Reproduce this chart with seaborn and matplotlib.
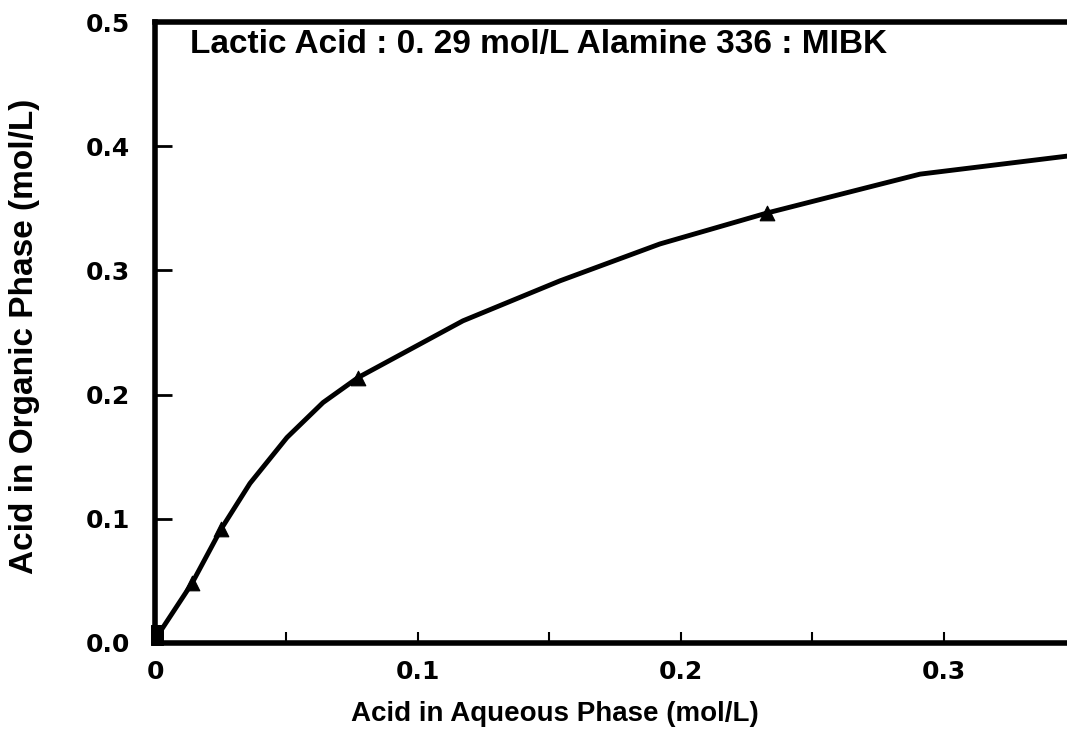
import matplotlib
matplotlib.use('Agg')
import matplotlib.pyplot as plt
import seaborn as sns
import numpy as np
import pandas as pd

# curva de equilibrio
curva_x = [0.001, 0.0141, 0.0251, 0.0361, 0.0502, 0.0639, 0.0772, 0.1171,
           0.1540, 0.1920, 0.2327, 0.2730, 0.2909, 0.3468]
curva_y = [0.006, 0.0482, 0.0916, 0.1285, 0.1655, 0.1936, 0.2137, 0.2594,
           0.2916, 0.3213, 0.3462, 0.3679, 0.3775, 0.3920]

# pontos experimentais
tri_x = [0.0141, 0.0251, 0.0772, 0.2327]
tri_y = [0.0482, 0.0916, 0.2137, 0.3462]
sq_x = [0.0008, 0.0008]
sq_y = [0.003, 0.010]

xticks = [0, 0.1, 0.2, 0.3]
xtick_labels = ['0', '0.1', '0.2', '0.3']
yticks = [0.0, 0.1, 0.2, 0.3, 0.4, 0.5]
ytick_labels = ['0.0', '0.1', '0.2', '0.3', '0.4', '0.5']

sns.set_theme(style='white')
plt.rcParams['font.family'] = ['Liberation Sans', 'DejaVu Sans']
plt.rcParams['text.color'] = 'black'
plt.rcParams['axes.labelcolor'] = 'black'
plt.rcParams['xtick.color'] = 'black'
plt.rcParams['ytick.color'] = 'black'

fig = plt.figure(figsize=(10.67, 7.40), dpi=100)
ax = fig.add_axes([155 / 1067, 97 / 740, 912 / 1067, 621 / 740])

df_curva = pd.DataFrame({'x': curva_x, 'y': curva_y})
df_tri = pd.DataFrame({'x': tri_x, 'y': tri_y})
df_sq = pd.DataFrame({'x': sq_x, 'y': sq_y})

sns.lineplot(data=df_curva, x='x', y='y', color='black', linewidth=3.5,
             sort=False, ax=ax, zorder=3)
sns.scatterplot(data=df_tri, x='x', y='y', marker='^', s=110, color='black',
                edgecolor='black', ax=ax, zorder=4)
sns.scatterplot(data=df_sq, x='x', y='y', marker='s', s=80, color='black',
                edgecolor='black', ax=ax, zorder=4, clip_on=False)

ax.set_xlim(0, 0.3468)
ax.set_ylim(0, 0.5)

for lado in ['left', 'bottom', 'top']:
    ax.spines[lado].set_linewidth(4)
    ax.spines[lado].set_color('black')
ax.spines['right'].set_visible(False)

ax.set_xticks(xticks)
ax.set_xticklabels(xtick_labels)
ax.set_xticks(np.arange(0.05, 0.35, 0.1), minor=True)
ax.set_yticks(yticks)
ax.set_yticklabels(ytick_labels)

ax.tick_params(axis='x', which='both', direction='in', length=8, width=1.5,
               pad=12, labelsize=18, bottom=True, top=False)
ax.tick_params(axis='y', which='major', direction='in', length=12, width=2,
               pad=18, labelsize=18, left=True, right=False)
for lbl in ax.get_xticklabels() + ax.get_yticklabels():
    lbl.set_family('DejaVu Sans')
    lbl.set_fontweight('bold')

ax.set_xlabel('Acid in Aqueous Phase (mol/L)', fontsize=20, fontweight='bold')
ax.xaxis.set_label_coords(0.4386, -0.0934)
ax.set_ylabel('Acid in Organic Phase (mol/L)', fontsize=24, fontweight='bold')
ax.yaxis.set_label_coords(-0.126, 0.493)

ax.text(0.038, 0.963, 'Lactic Acid : 0. 29 mol/L Alamine 336 : MIBK',
        transform=ax.transAxes, fontsize=24, fontweight='bold',
        ha='left', va='center', color='black')

ax.grid(False)
fig.savefig('out.png', dpi=100)
